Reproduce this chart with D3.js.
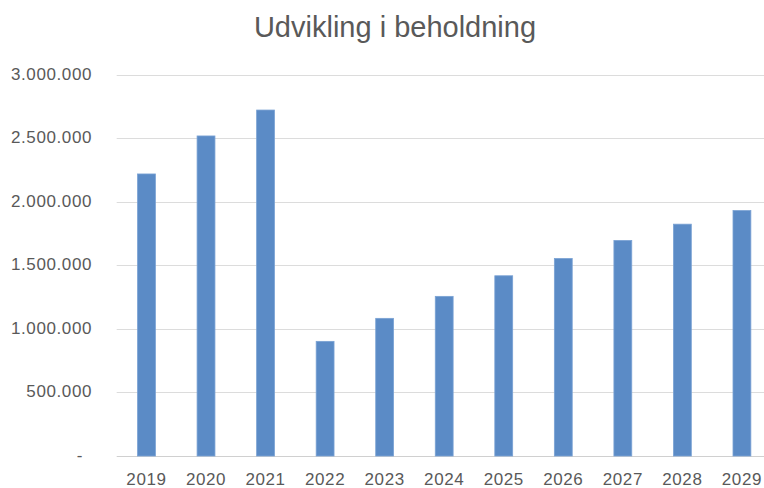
<!DOCTYPE html>
<html>
<head>
<meta charset="utf-8">
<script src="https://cdn.jsdelivr.net/npm/d3@7"></script>
<style>
  body { margin: 0; background: #fff; }
  text { font-family: "Liberation Sans", Arial, sans-serif; fill: #595959; }
</style>
</head>
<body>
<div class="canvas"></div>
<script>
// data
const years = ['2019','2020','2021','2022','2023','2024','2025','2026','2027','2028','2029'];
const beholdning = [2219000, 2518000, 2722000, 902000, 1083000, 1256000, 1418000, 1554000, 1696000, 1824000, 1931000];
const yTicks = [0, 500000, 1000000, 1500000, 2000000, 2500000, 3000000];

const width = 764, height = 488;
const plot = {left: 116.7, right: 771.7, top: 74.7, bottom: 456};

const svg = d3.select('.canvas')
    .append('svg')
    .attr('width', width)
    .attr('height', height);

const x = d3.scaleBand()
    .domain(years)
    .range([plot.left, plot.right])
    .paddingInner(0.7)
    .paddingOuter(0.35);

const y = d3.scaleLinear()
    .domain([0, 3000000])
    .range([plot.bottom, plot.top]);

// danish style number format, zero shown as dash
const dk = d3.formatLocale({decimal: ',', thousands: '.', grouping: [3], currency: ['', ' kr.']});
const fmt = dk.format(',.0f');

// title
svg.append('text')
    .attr('x', 395)
    .attr('y', 36.7)
    .attr('text-anchor', 'middle')
    .style('font-size', '29px')
    .text('Udvikling i beholdning');

// gridlines
svg.append('g')
    .selectAll('line')
    .data(yTicks)
    .join('line')
    .attr('x1', plot.left)
    .attr('x2', width)
    .attr('y1', d => Math.round(y(d)) + 0.5)
    .attr('y2', d => Math.round(y(d)) + 0.5)
    .attr('stroke', d => d === 0 ? '#d0d0d0' : '#dcdcdc')
    .attr('stroke-width', 1);

// y labels
svg.append('g')
    .selectAll('text')
    .data(yTicks)
    .join('text')
    .attr('x', d => d === 0 ? 83 : 92)
    .attr('y', d => y(d) - 1)
    .attr('dy', '0.35em')
    .attr('text-anchor', 'end')
    .style('font-size', '17px')
    .style('letter-spacing', '0.6px')
    .text(d => d === 0 ? '-' : fmt(d));

// bars
svg.append('g')
    .selectAll('rect')
    .data(beholdning)
    .join('rect')
    .attr('x', (d, i) => x(years[i]))
    .attr('y', d => y(d))
    .attr('width', x.bandwidth())
    .attr('height', d => y(0) - y(d))
    .attr('fill', '#5b8bc6')
    .attr('stroke', '#7aa2d4')
    .attr('stroke-width', 0.8);

// x labels
svg.append('g')
    .selectAll('text')
    .data(years)
    .join('text')
    .attr('x', d => x(d) + x.bandwidth() / 2)
    .attr('y', 485)
    .attr('text-anchor', 'middle')
    .style('font-size', '17px')
    .style('letter-spacing', '0.6px')
    .text(d => d);
</script>
</body>
</html>
